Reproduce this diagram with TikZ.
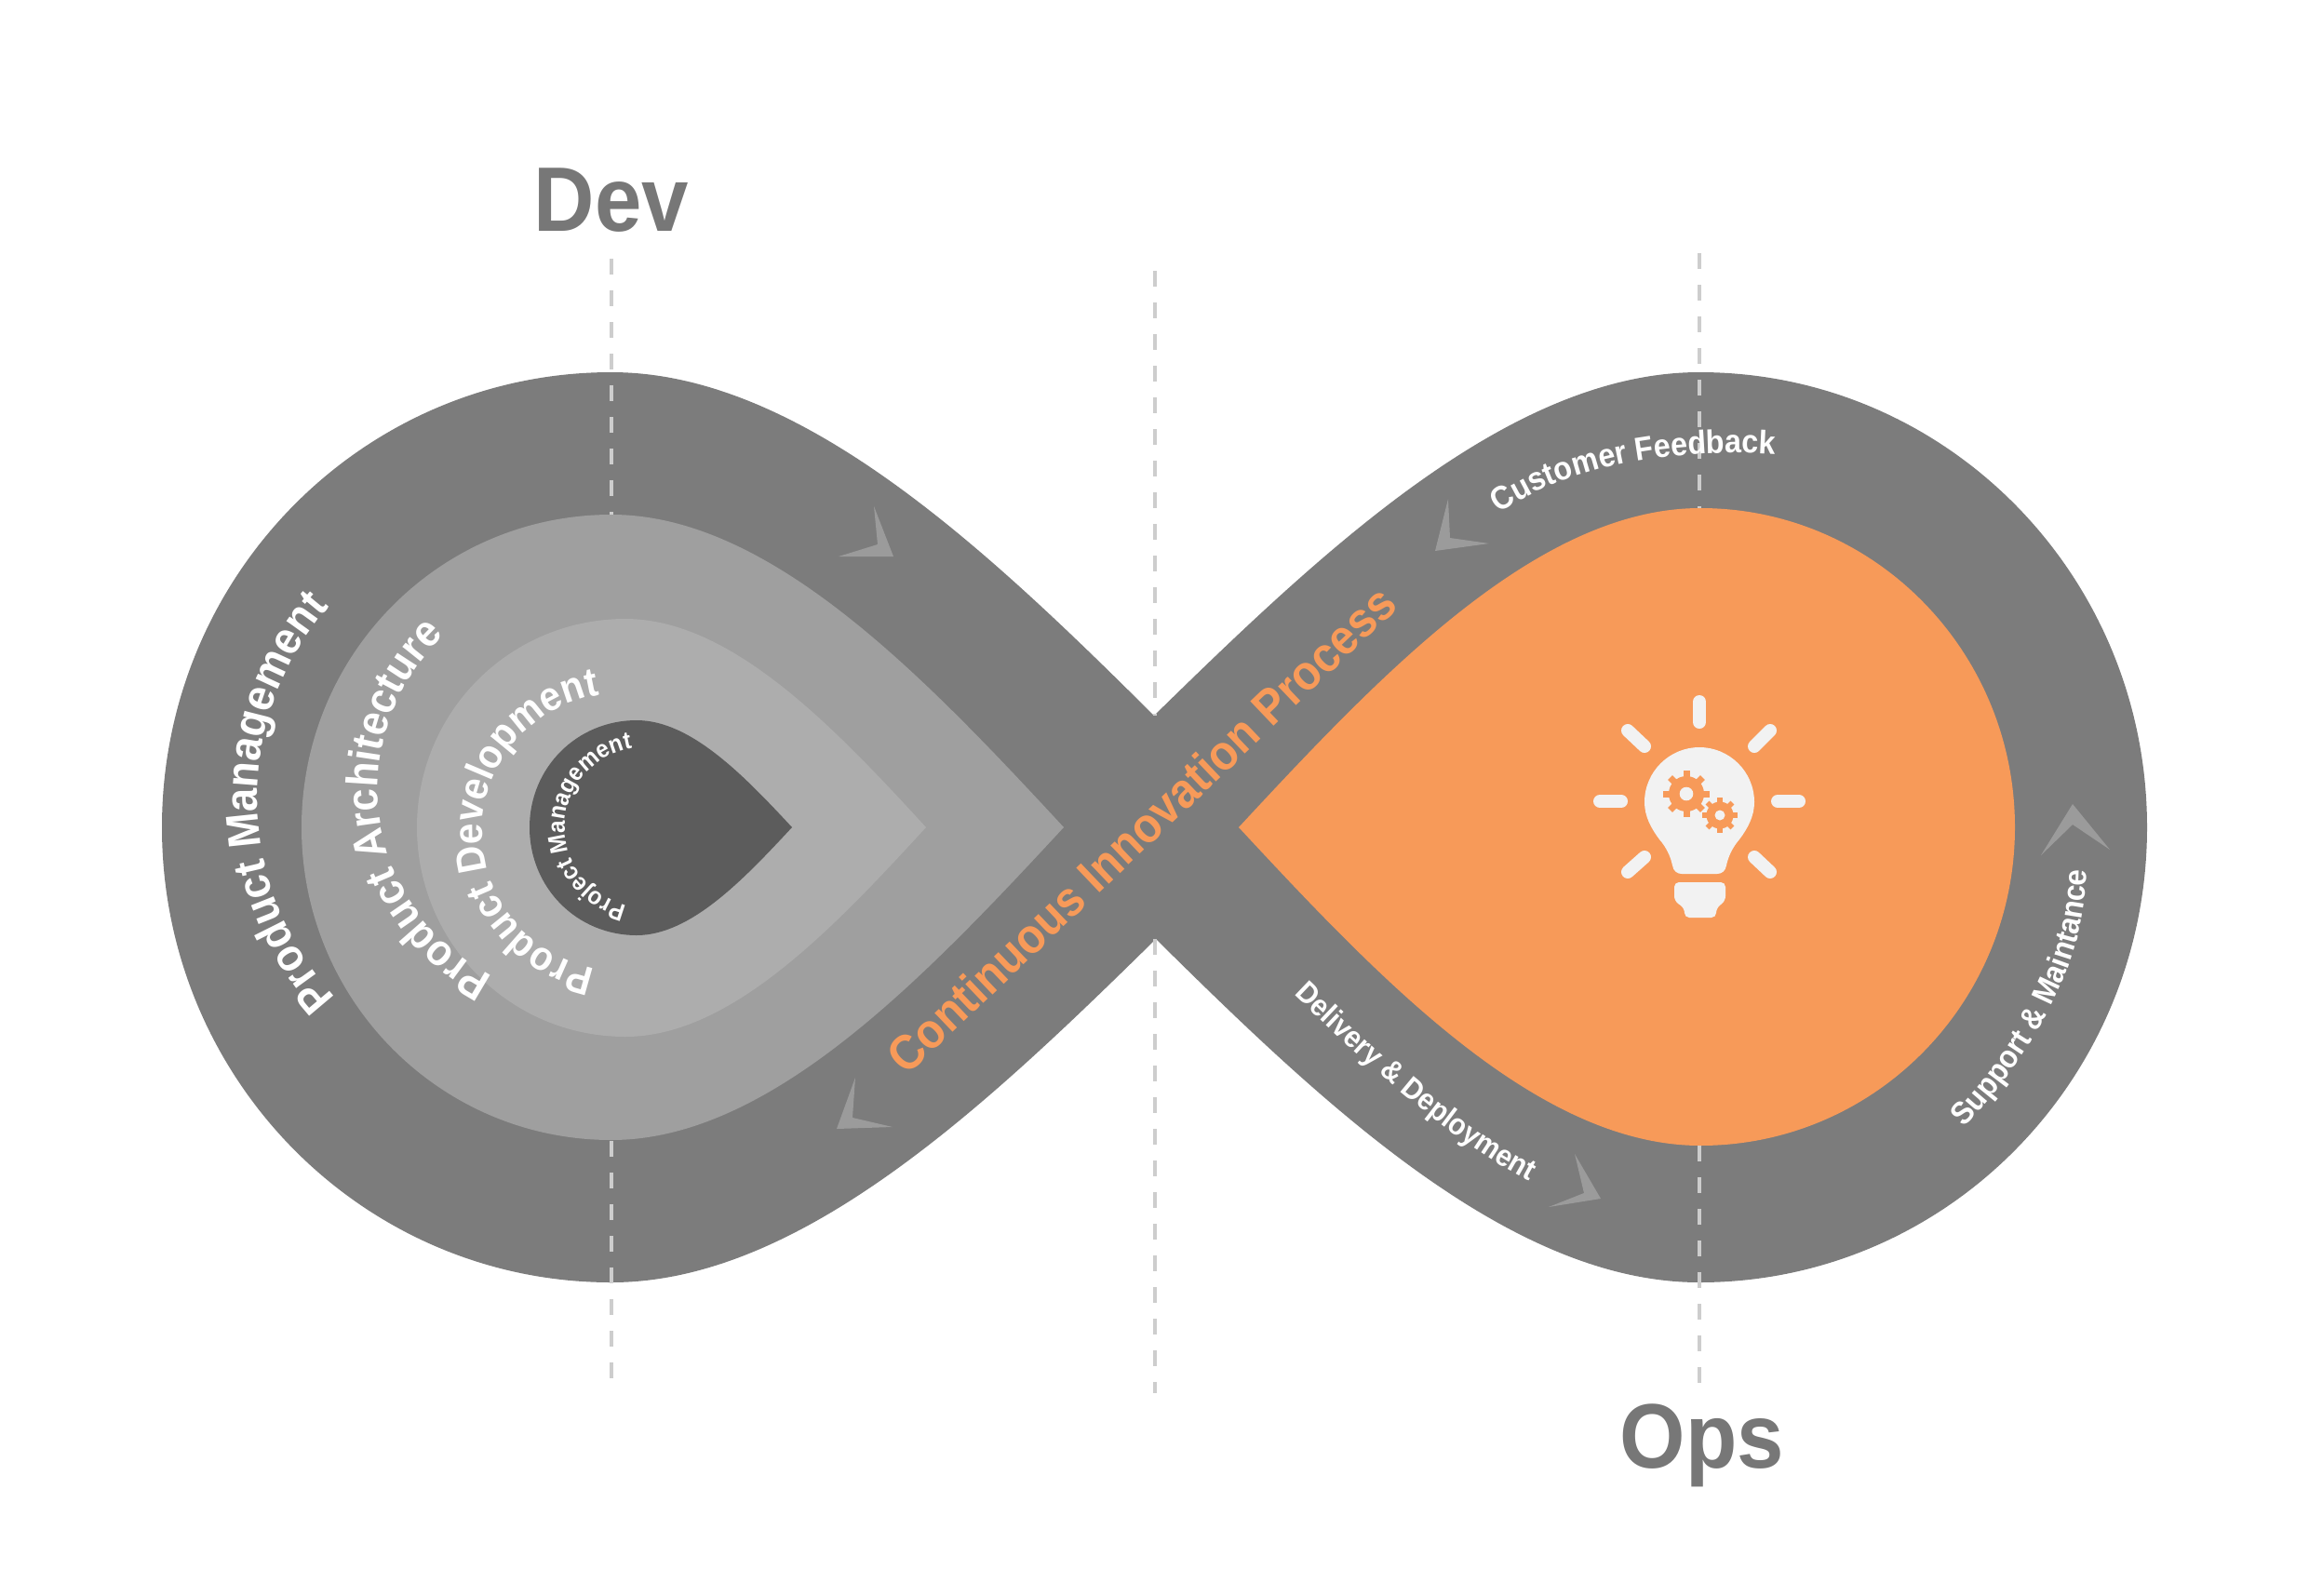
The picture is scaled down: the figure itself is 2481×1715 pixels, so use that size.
\documentclass[tikz,border=0pt]{standalone}
\usepackage{fontspec}
\setmainfont[FakeStretch=0.92]{Liberation Sans}
\usetikzlibrary{decorations.text}
\definecolor{bandgray}{HTML}{7C7C7C}
\definecolor{archgray}{HTML}{9F9F9F}
\definecolor{devgray}{HTML}{ADADAD}
\definecolor{projgray}{HTML}{5C5C5C}
\definecolor{opsorange}{HTML}{F79A59}
\definecolor{bulbwhite}{HTML}{F2F2F2}
\definecolor{dashgray}{HTML}{CDCDCD}
\definecolor{notchgray}{HTML}{9B9B9B}
\definecolor{titlegray}{HTML}{777777}
\newcommand{\bfsize}[1]{\bfseries\fontsize{#1}{#1}\selectfont}
\tikzset{
	guide/.style={dashgray,line width=0.04cm,dash pattern=on 0.17cm off 0.17cm},
	notch/.style={fill=notchgray},
	ray/.style={bulbwhite,line width=0.14cm,line cap=round},
	bigtooth/.style={opsorange,line width=0.07cm},
	smalltooth/.style={opsorange,line width=0.055cm},
	bendtext/.style={decorate,decoration={text along path,text align=center,text={#1}}}
}

\begin{document}
\begin{tikzpicture}[x=0.01cm,y=-0.01cm]
	\useasboundingbox (0,0) rectangle (2481,1715);
	\fill[bandgray] (1240,769) .. controls (1060,590) and (860,400) .. (657,400) .. controls (390,400) and (174,619) .. (174,889) .. controls (174,1159) and (390,1378) .. (657,1378) .. controls (860,1378) and (1060,1188) .. (1242,1009) .. controls (1423,1188) and (1623,1378) .. (1826,1378) .. controls (2092,1378) and (2307,1159) .. (2307,889) .. controls (2307,619) and (2092,400) .. (1826,400) .. controls (1623,400) and (1423,590) .. cycle;
	\fill[archgray] (1143,889) .. controls (992,726) and (827,553) .. (657,553) .. controls (473,553) and (324,703) .. (324,889) .. controls (324,1075) and (473,1225) .. (657,1225) .. controls (827,1225) and (992,1052) .. cycle;
	\fill[devgray] (995,889) .. controls (895,780) and (785,665) .. (672,665) .. controls (548,665) and (448,765) .. (448,889) .. controls (448,1013) and (548,1114) .. (672,1114) .. controls (785,1114) and (895,998) .. cycle;
	\fill[projgray] (851,889) .. controls (799,833) and (742,774) .. (684,774) .. controls (620,774) and (569,825) .. (569,889) .. controls (569,954) and (620,1005) .. (684,1005) .. controls (742,1005) and (799,945) .. cycle;
	\fill[opsorange] (1331,889) .. controls (1485,723) and (1653,546) .. (1827,546) .. controls (2014,546) and (2165,700) .. (2165,889) .. controls (2165,1078) and (2014,1231) .. (1827,1231) .. controls (1653,1231) and (1485,1055) .. cycle;

	\draw[guide] (657,278) -- (657,553);
	\draw[guide] (657,1226) -- (657,1492);
	\draw[guide] (1241,291) -- (1241,769);
	\draw[guide] (1241,1009) -- (1241,1497);
	\draw[guide] (1826,272) -- (1826,546);
	\draw[guide] (1826,1231) -- (1826,1492);

	\fill[notch] (939,544) -- (960,598) -- (901,598) -- (943,585) -- cycle;
	\fill[notch] (1556,536) -- (1542,592) -- (1600,584) -- (1558,578) -- cycle;
	\fill[notch] (2227,864) -- (2267,913) -- (2227,886) -- (2193,919) -- cycle;
	\fill[notch] (1692,1240) -- (1720,1288) -- (1664,1297) -- (1702,1282) -- cycle;
	\fill[notch] (919,1158) -- (899,1213) -- (959,1211) -- (916,1201) -- cycle;

	\node[anchor=base,text=titlegray,font=\bfsize{28}] (dev) at (657,248) {Dev};
	\node[anchor=base,text=titlegray,font=\bfsize{28}] (ops) at (1829,1577) {Ops};
	\node[rotate=43.6,text=opsorange,font=\bfsize{15}] (process) at (1226,891) {Continuous Innovation Process};

	\path[bendtext={|\bfsize{14}\color{white}|Product Management}] ([shift={(222:3.15cm)}]592,858) arc[start angle=222,end angle=140,radius=3.15cm];
	\path[bendtext={|\bfsize{13.5}\color{white}|Product Architecture}] ([shift={(241:2.26cm)}]632,848) arc[start angle=241,end angle=135,radius=2.26cm];
	\path[bendtext={|\bfsize{12.5}\color{white}|Product Development}] ([shift={(259:1.49cm)}]667,894) arc[start angle=259,end angle=99,radius=1.49cm];
	\path[bendtext={|\bfsize{7.5}\color{white}|Project Management}] ([shift={(256:0.86cm)}]693,889) arc[start angle=256,end angle=100,radius=0.86cm];
	\path[bendtext={|\bfsize{10}\color{white}|Customer Feedback}] (1610,552) .. controls (1670,510) and (1770,480) .. (1908,488);
	\path[bendtext={|\bfsize{9.7}\color{white}|Support {\&} Maintance}] (2105,1217) .. controls (2175,1145) and (2245,1040) .. (2242,927);
	\path[bendtext={|\bfsize{9.2}\color{white}|Delivery {\&} Deployment}] (1378,1057) .. controls (1450,1125) and (1550,1225) .. (1658,1277);

	\draw[ray] (1826,754) -- (1826,776);
	\draw[ray] (1719,861) -- (1742,861);
	\draw[ray] (1910,861) -- (1933,861);
	\draw[ray] (1749,785) -- (1767,802);
	\draw[ray] (1902,785) -- (1885,802);
	\draw[ray] (1767,921) -- (1749,937);
	\draw[ray] (1885,921) -- (1902,937);
	\fill[bulbwhite] (1826,803) .. controls (1794,803) and (1767,829) .. (1767,862) .. controls (1767,877) and (1774,890) .. (1783,902) .. controls (1790,910) and (1795,920) .. (1797,930) .. controls (1798,936) and (1802,939) .. (1807,939) -- (1845,939) .. controls (1850,939) and (1854,936) .. (1855,930) .. controls (1857,920) and (1862,910) .. (1869,902) .. controls (1878,890) and (1885,877) .. (1885,862) .. controls (1885,829) and (1858,803) .. cycle;
	\fill[bulbwhite,rounded corners=0.05cm] (1799,948) -- (1854,948) -- (1854,968) -- (1844,976) -- (1844,986) -- (1810,986) -- (1810,976) -- (1799,968) -- cycle;

	\foreach \a in {0,45,...,315} \draw[bigtooth] (1812,853) -- +(\a:0.247cm);
	\fill[opsorange] (1812,853) circle[radius=0.19cm];
	\fill[bulbwhite] (1812,853) circle[radius=0.073cm];
	\foreach \a in {0,45,...,315} \draw[smalltooth] (1848,876) -- +(\a:0.19cm);
	\fill[opsorange] (1848,876) circle[radius=0.145cm];
	\fill[bulbwhite] (1848,876) circle[radius=0.055cm];
\end{tikzpicture}
\end{document}
